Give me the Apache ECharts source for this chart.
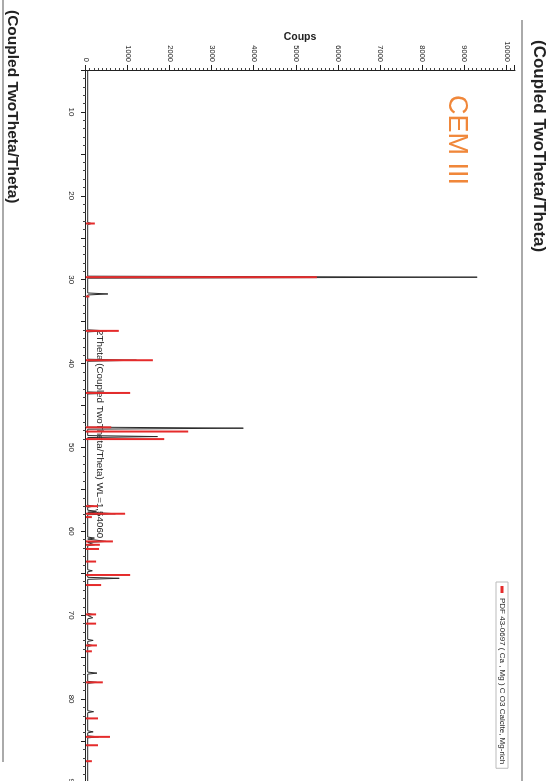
<!DOCTYPE html>
<html><head><meta charset="utf-8">
<script src="https://cdn.jsdelivr.net/npm/echarts@6/dist/echarts.min.js"></script>
<style>
html,body{margin:0;padding:0;width:553px;height:781px;overflow:hidden;background:#fff;}
#wrap{position:absolute;left:0;top:0;width:800px;height:553px;transform-origin:0 0;transform:translate(553px,0) rotate(90deg);}
</style></head><body>
<div id="wrap"></div>
<script>
// Measured pattern (black): peak positions (2θ) and heights (counts)
const measuredTheta  = [23.3, 29.7, 31.7, 36.1, 39.6, 43.5, 47.7, 48.7, 57.0, 57.6, 57.9, 60.8, 61.2, 61.6, 64.7, 65.6, 69.9, 70.3, 73.0, 73.6, 76.9, 78.0, 81.5, 83.9, 84.5];
const measuredCounts = [130, 9300, 520, 500, 1200, 800, 3740, 1700, 180, 250, 700, 200, 480, 200, 150, 790, 150, 160, 170, 150, 260, 250, 180, 170, 300];
const measuredBaseline = 40;
// Reference pattern PDF 43-0697 (red sticks)
const refName = 'PDF 43-0697 ( Ca , Mg ) C O3 Calcite, Mg-rich';
const refTheta  = [23.3, 29.7, 32.0, 36.1, 39.6, 43.5, 47.6, 48.1, 49.0, 57.0, 57.9, 58.3, 61.2, 61.6, 62.1, 63.6, 65.2, 66.4, 69.9, 71.0, 73.6, 74.3, 78.0, 82.3, 84.5, 85.5, 87.4];
const refCounts = [210, 5490, 80, 780, 1590, 1050, 600, 2430, 1860, 285, 930, 140, 640, 330, 310, 240, 1050, 360, 240, 240, 260, 140, 400, 285, 570, 285, 140];
// Axis ranges / labels
const thetaMin = 5, thetaMax = 90;
const countsMax = 10200;
const titleSide = '(Coupled TwoTheta/Theta)';
const xName = '2Theta (Coupled TwoTheta/Theta) WL=1,54060';
const yName = 'Coups';
const sampleLabel = 'CEM III';

// build measured polyline: baseline - peak - baseline
const measured = [[thetaMin, measuredBaseline]];
measuredTheta.forEach((t, i) => {
  measured.push([t - 0.12, measuredBaseline]);
  measured.push([t, measuredCounts[i]]);
  measured.push([t + 0.12, measuredBaseline]);
});
measured.push([thetaMax, measuredBaseline]);
const refData = refTheta.map((t, i) => [t, refCounts[i]]);

const FONT = 'Liberation Sans, Arial, sans-serif';
const chart = echarts.init(document.getElementById('wrap'), null, {renderer: 'canvas'});
chart.setOption({
  animation: false,
  backgroundColor: '#fff',
  color: ['#2a2a2a', '#e52b2b'],
  textStyle: {fontFamily: FONT},
  grid: {left: 70, right: 17, top: 38, bottom: 86},
  xAxis: {
    type: 'value', min: thetaMin, max: thetaMax, interval: 5,
    axisLine: {lineStyle: {color: '#222', width: 1}},
    axisTick: {length: 5, lineStyle: {color: '#222'}},
    minorTick: {show: true, splitNumber: 5, length: 3, lineStyle: {color: '#444'}},
    splitLine: {show: false},
    axisLabel: {formatter: v => (v % 10 === 0 ? String(v) : ''), fontSize: 8, color: '#222', margin: 11, fontFamily: FONT}
  },
  yAxis: {
    type: 'value', min: 0, max: countsMax, interval: 1000,
    axisLine: {show: true, lineStyle: {color: '#222', width: 1}},
    axisTick: {show: true, length: 5, lineStyle: {color: '#222'}},
    minorTick: {show: true, splitNumber: 10, length: 2, lineStyle: {color: '#444'}},
    splitLine: {show: false},
    axisLabel: {formatter: v => String(v), fontSize: 7.5, color: '#222', margin: 8, showMaxLabel: false, fontFamily: FONT}
  },
  legend: {
    data: [{name: refName, icon: 'rect'}],
    left: 582, top: 45, itemWidth: 7, itemHeight: 3, itemGap: 4,
    borderColor: '#bbb', borderWidth: 1, padding: [2, 4],
    textStyle: {fontSize: 8, color: '#222', fontFamily: FONT}
  },
  series: [
    {
      name: 'measured', type: 'line', data: measured, showSymbol: false,
      lineStyle: {color: '#2a2a2a', width: 1}, itemStyle: {color: '#2a2a2a'}, z: 2
    },
    {
      name: refName, type: 'custom', data: refData, z: 3,
      itemStyle: {color: '#e52b2b'},
      renderItem: function (params, api) {
        const p0 = api.coord([api.value(0), 0]);
        const p1 = api.coord([api.value(0), api.value(1)]);
        return {type: 'line', shape: {x1: p0[0], y1: p0[1], x2: p1[0], y2: p1[1]},
                style: {stroke: '#e52b2b', lineWidth: 2}};
      }
    }
  ],
  graphic: [
    {type: 'line', shape: {x1: 0, y1: 550, x2: 762, y2: 550}, style: {stroke: '#aaa', lineWidth: 2}},
    {type: 'text', x: 10, y: 533, style: {text: titleSide, fill: '#222', font: 'bold 15.5px ' + FONT}},
    {type: 'line', shape: {x1: 20, y1: 31, x2: 800, y2: 31}, style: {stroke: '#aaa', lineWidth: 2}},
    {type: 'text', x: 40, y: 6, style: {text: titleSide, fill: '#222', font: 'bold 17px ' + FONT}},
    {type: 'text', x: 330, y: 448, style: {text: xName, fill: '#222', font: '9.8px ' + FONT}},
    {type: 'text', x: 37, y: 253, rotation: Math.PI / 2,
     style: {text: yName, fill: '#222', font: 'bold 10.5px ' + FONT, align: 'center', verticalAlign: 'middle'}},
    {type: 'text', x: 95, y: 83, style: {text: sampleLabel, fill: '#F0873A', font: '27px ' + FONT}}
  ]
});
</script>
</body></html>
